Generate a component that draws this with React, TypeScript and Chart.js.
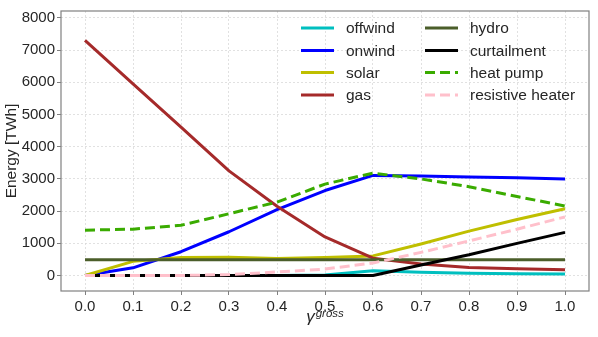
import React, { useEffect, useRef } from "react";
import { Chart, registerables } from "chart.js";

Chart.register(...registerables);

const FONT = "'Liberation Sans', Arial, sans-serif";

const GAMMA = [0.0, 0.1, 0.2, 0.3, 0.4, 0.5, 0.6, 0.7, 0.8, 0.9, 1.0];
const X_TICKS = [0.0, 0.1, 0.2, 0.3, 0.4, 0.5, 0.6, 0.7, 0.8, 0.9, 1.0];
const Y_TICKS = [0, 1000, 2000, 3000, 4000, 5000, 6000, 7000, 8000];

const OFFWIND = [0, 0, 0, 0, 0, 20, 150, 100, 70, 55, 45];
const ONWIND = [0, 240, 740, 1360, 2045, 2640, 3110, 3090, 3060, 3035, 3000];
const SOLAR = [0, 440, 560, 570, 530, 560, 610, 980, 1380, 1740, 2075];
const GAS = [7300, 5950, 4610, 3250, 2150, 1200, 540, 360, 250, 210, 180];
const HYDRO = [490, 490, 490, 490, 490, 490, 490, 490, 490, 490, 490];
const CURTAILMENT = [0, 0, 0, 0, 0, 0, 0, 330, 645, 1000, 1340];
const HEAT_PUMP = [1410, 1440, 1560, 1920, 2280, 2840, 3180, 3000, 2760, 2455, 2160];
const RESISTIVE = [0, 0, 0, 30, 110, 200, 390, 720, 1075, 1440, 1820];

const NAMES = ["offwind", "onwind", "solar", "gas", "hydro", "curtailment", "heat pump", "resistive heater"];
const SERIES = [OFFWIND, ONWIND, SOLAR, GAS, HYDRO, CURTAILMENT, HEAT_PUMP, RESISTIVE];
const COLORS = ["#00bfbf", "#0000ff", "#bfbf00", "#a52a2a", "#4b5e2a", "#000000", "#3aab00", "#ffc0cb"];
const DASHED = [false, false, false, false, false, false, true, true];

const Y_TITLE = "Energy [TWh]";
const X_TITLE_BASE = "γ";
const X_TITLE_SUP = "gross";

const overlay = {
  id: "overlay",
  afterDraw(chart: any) {
    const { ctx, chartArea: a } = chart;
    ctx.save();
    // frame
    ctx.strokeStyle = "#808080";
    ctx.lineWidth = 1.2;
    ctx.setLineDash([]);
    ctx.strokeRect(a.left, a.top, a.right - a.left, a.bottom - a.top);

    // y title
    ctx.fillStyle = "#262626";
    ctx.font = `15.5px ${FONT}`;
    ctx.textAlign = "center";
    ctx.textBaseline = "middle";
    ctx.save();
    ctx.translate(12, (a.top + a.bottom) / 2);
    ctx.rotate(-Math.PI / 2);
    ctx.fillText(Y_TITLE, 0, 0);
    ctx.restore();

    // x title with superscript
    ctx.textAlign = "left";
    ctx.textBaseline = "alphabetic";
    ctx.font = `italic 17px ${FONT}`;
    const wb = ctx.measureText(X_TITLE_BASE).width;
    ctx.font = `italic 11.5px ${FONT}`;
    const ws = ctx.measureText(X_TITLE_SUP).width;
    const cx = (a.left + a.right) / 2;
    const x0 = cx - (wb + ws + 1) / 2;
    ctx.font = `italic 17px ${FONT}`;
    ctx.fillText(X_TITLE_BASE, x0, 322);
    ctx.font = `italic 11.5px ${FONT}`;
    ctx.fillText(X_TITLE_SUP, x0 + wb + 1, 316.5);

    // legend
    const colX = [a.left + 240, a.left + 364];
    const rowY = [28, 50.5, 72.5, 95];
    ctx.font = `15.5px ${FONT}`;
    ctx.textBaseline = "middle";
    NAMES.forEach((name, i) => {
      const col = Math.floor(i / 4);
      const row = i % 4;
      const x = colX[col];
      const y = rowY[row];
      ctx.strokeStyle = COLORS[i];
      ctx.lineWidth = 3;
      ctx.setLineDash(DASHED[i] ? [10, 5] : []);
      ctx.beginPath();
      ctx.moveTo(x, y);
      ctx.lineTo(x + 33, y);
      ctx.stroke();
      ctx.setLineDash([]);
      ctx.fillStyle = "#262626";
      ctx.fillText(name, x + 45, y + 1);
    });
    ctx.restore();
  },
};

export default function App() {
  const ref = useRef<HTMLCanvasElement | null>(null);
  useEffect(() => {
    if (!ref.current) return;
    const datasets = SERIES.map((arr, i) => ({
      label: NAMES[i],
      data: GAMMA.map((g, j) => ({ x: g, y: arr[j] })),
      borderColor: COLORS[i],
      backgroundColor: COLORS[i],
      borderWidth: 3,
      borderDash: DASHED[i] ? [10, 5] : [],
      pointRadius: 0,
      pointHoverRadius: 0,
      tension: 0,
      fill: false,
      order: -i,
      borderJoinStyle: "round" as const,
    }));
    const tickFont = { family: FONT, size: 15 };
    const chart = new Chart(ref.current, {
      type: "line",
      data: { datasets },
      plugins: [overlay],
      options: {
        responsive: false,
        animation: false,
        layout: { padding: { left: 0, right: 9, top: 9, bottom: 0 } },
        plugins: { legend: { display: false }, tooltip: { enabled: false } },
        scales: {
          x: {
            type: "linear",
            min: -0.05,
            max: 1.05,
            afterBuildTicks: (s: any) => {
              s.ticks = X_TICKS.map((v) => ({ value: v }));
            },
            afterFit: (s: any) => {
              s.height = 46;
            },
            ticks: {
              callback: (v: any) => Number(v).toFixed(1),
              font: tickFont,
              color: "#262626",
              padding: 3,
              maxRotation: 0,
              autoSkip: false,
            },
            grid: { color: "#dadada", lineWidth: 0.8, tickLength: 4, tickColor: "#808080", tickWidth: 1 },
            border: { display: false, dash: [2, 2] },
          },
          y: {
            type: "linear",
            min: -480,
            max: 8215,
            afterBuildTicks: (s: any) => {
              s.ticks = Y_TICKS.map((v) => ({ value: v }));
            },
            afterFit: (s: any) => {
              s.width = 61;
            },
            ticks: {
              font: tickFont,
              color: "#262626",
              padding: 2,
              callback: (v: any) => String(v),
            },
            grid: { color: "#dadada", lineWidth: 0.8, tickLength: 4, tickColor: "#808080", tickWidth: 1 },
            border: { display: false, dash: [2, 2] },
          },
        },
      },
    });
    return () => chart.destroy();
  }, []);
  return (
    <div style={{ position: "absolute", left: 0, top: 0, width: 598, height: 337 }}>
      <canvas ref={ref} width={598} height={337} style={{ width: 598, height: 337 }} />
    </div>
  );
}
